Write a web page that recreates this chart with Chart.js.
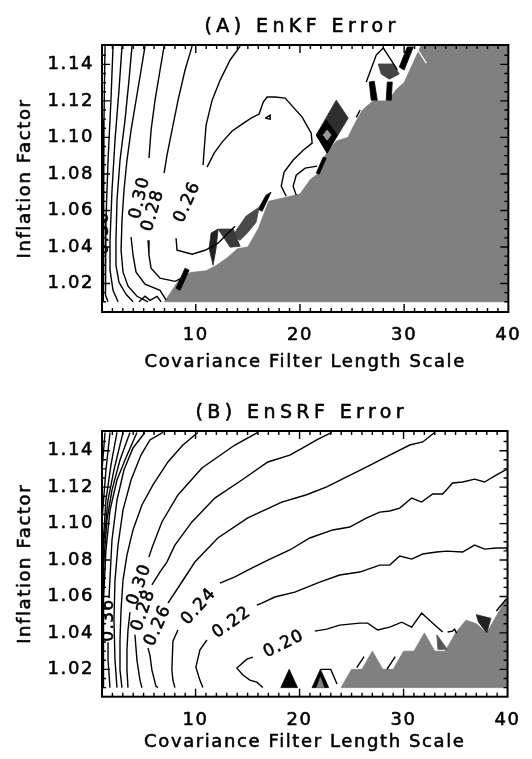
<!DOCTYPE html>
<html><head><meta charset="utf-8">
<script src="https://cdn.jsdelivr.net/npm/chart.js@4.4.1/dist/chart.umd.min.js"></script>
<style>
html,body{margin:0;padding:0;background:#fff;}
#wrap{position:relative;width:532px;height:759px;overflow:hidden;background:#fff;}
canvas{position:absolute;left:0;}
#cA{top:0;} #cB{top:380px;}
</style></head><body>
<div id="wrap"><canvas id="cA" width="532" height="380"></canvas><canvas id="cB" width="532" height="379"></canvas></div>
<script>
const FONT = '"DejaVu Sans", Verdana, sans-serif';
const FW = 'normal';
const xTickValues = [10, 20, 30, 40];
const yTickValues = [1.02, 1.04, 1.06, 1.08, 1.10, 1.12, 1.14];
const xTitle = 'Covariance Filter Length Scale';
const yTitle = 'Inflation Factor';

// ---------- Panel A : EnKF ----------
const aGray = [[7,1.01],[7.7,1.016],[8.5,1.023],[9.5,1.026],[11,1.027],[12,1.03],[13,1.034],[14,1.039],[15,1.04],[16,1.05],[17,1.065],[18.5,1.067],[20,1.069],[21,1.077],[21.7,1.08],[22.4,1.09],[23.5,1.098],[24.6,1.1],[25.3,1.108],[26,1.115],[27,1.12],[28.5,1.12],[29.2,1.126],[30,1.13],[30.8,1.14],[31.6,1.15],[40,1.15],[40,1.01]];
const aC040 = [[1.29,1.15],[1.19,1.1095],[1.1,1.0656],[1.1,1.0218],[1.19,1.01]];
const aC038 = [[2.06,1.15],[1.86,1.1204],[1.58,1.0876],[1.38,1.0547],[1.29,1.0273],[1.38,1.0136],[1.58,1.01]];
const aC036 = [[2.92,1.15],[2.63,1.1259],[2.25,1.0985],[1.96,1.0711],[1.77,1.0437],[1.77,1.0273],[2.06,1.0163],[2.54,1.01]];
const aC034 = [[3.88,1.15],[3.59,1.1314],[3.21,1.1095],[2.73,1.0876],[2.44,1.0656],[2.34,1.0437],[2.34,1.03],[2.63,1.0207],[3.31,1.0141],[3.98,1.01]];
const aC032 = [[5.13,1.15],[4.75,1.1369],[4.27,1.1204],[3.79,1.104],[3.4,1.0876],[3.11,1.0711],[2.92,1.0547],[2.83,1.0382],[3.02,1.0262],[3.5,1.0185],[4.36,1.013],[5.42,1.01]];
const aC030a = [[6.96,1.15],[6.57,1.1369],[6.09,1.1204],[5.71,1.104],[5.51,1.0887]];
const aC030b = [[3.79,1.0454],[3.98,1.0355],[4.27,1.0262],[5.13,1.0196],[6.57,1.0163],[7.15,1.011]];
const aC028a = [[9.65,1.15],[8.97,1.1369],[8.3,1.1204],[7.72,1.104],[7.24,1.0903],[6.96,1.0804]];
const aC028b = [[5.42,1.0437],[5.51,1.0355],[5.71,1.0284],[6.57,1.0229],[8.01,1.0212],[8.78,1.0234]];
const aC026a = [[14.26,1.15],[13.3,1.1424],[12.34,1.1314],[11.57,1.1204],[10.99,1.1067],[10.8,1.093],[10.7,1.0848]];
const aC026b = [[8.11,1.0448],[8.2,1.0382],[9.65,1.036],[10.89,1.0382],[12.14,1.0421],[13.1,1.0476],[13.78,1.0514]];
const aBump = [[11.09,1.0837],[11.76,1.0914],[12.53,1.0974],[13.49,1.1035],[14.45,1.1073],[15.31,1.1106],[16.08,1.1128],[16.47,1.1193],[16.85,1.1221],[17.62,1.1221],[18.58,1.1215],[19.35,1.1166],[20.21,1.1111],[21.08,1.1023],[21.17,1.0969],[20.31,1.093],[19.35,1.0876],[18.48,1.081],[18.2,1.0733],[18.68,1.0678]];
const aSide = [[21.65,1.0843],[20.5,1.0832],[19.64,1.0793],[19.35,1.0733],[19.64,1.0684]];
const aTiny = [[16.66,1.1106],[17.14,1.1122],[17.14,1.11],[16.66,1.1106]];
const aZig = [[4.55,1.01],[5.13,1.013],[5.61,1.0108],[6.28,1.013],[6.67,1.01]];
const aCaret = [[26.36,1.1303],[27.32,1.1451],[27.99,1.149],[28.86,1.1413],[29.34,1.137]];
const aShort = [[25.4,1.111],[25.78,1.115]];
const aWhite = [[31.07,1.15],[32.13,1.1407]];
const aDark1 = [[8.11,1.0174],[8.97,1.0284],[9.36,1.0273],[8.49,1.0163]];
const aDark2 = [[11.47,1.0476],[12.14,1.0498],[11.95,1.0393],[11.66,1.03],[11.28,1.0393]];
const aDark3 = [[12.14,1.0498],[13.59,1.0498],[14.26,1.0404],[13.3,1.0399]];
const aDark4 = [[13.49,1.0459],[14.83,1.0569],[16.08,1.0618],[15.79,1.0536],[15.02,1.0481],[14.26,1.0437]];
const aDark5 = [[15.99,1.0607],[16.75,1.0684],[17.23,1.07],[16.37,1.0596]];
const aDiamond = [[21.56,1.1013],[23.48,1.1204],[24.63,1.1106],[22.61,1.0914]];
const aDiamondLow = [[21.56,1.1013],[22.52,1.1095],[23.57,1.1013],[22.61,1.0914]];
const aDiamondCore = [[22.23,1.1013],[22.61,1.104],[22.99,1.1013],[22.61,1.0985]];
const aSliver = [[21.56,1.0804],[22.23,1.0892],[22.52,1.0887],[21.85,1.0799]];
const aBar1 = [[26.65,1.1303],[27.13,1.1308],[27.42,1.1204],[26.84,1.1204]];
const aBar2 = [[28.38,1.1303],[28.86,1.1303],[28.76,1.1204],[28.28,1.1204]];
const aHatch = [[27.51,1.1402],[28.95,1.1402],[29.53,1.1347],[28.57,1.1319],[27.8,1.1347]];
const aTop = [[29.53,1.1385],[30.3,1.1495],[30.88,1.1495],[30.0,1.1369]];
const aLabelText = ['0.36', '0.30', '0.28', '0.26'];
const aLabelX = [1.19, 4.65, 5.9, 9.2];
const aLabelY = [1.0476, 1.067, 1.06, 1.0646];
const aLabelAngle = [-90, -77, -74, -66];

// ---------- Panel B : EnSRF ----------
const bGray = [[24,1.01],[25,1.02],[26,1.02],[27,1.03],[28,1.02],[29,1.02],[30,1.03],[31,1.03],[32,1.04],[33,1.03],[34,1.03],[35,1.04],[36,1.047],[37,1.045],[38,1.04],[40,1.06],[40,1.01]];
const bC048 = [[1,1.1294],[1.29,1.15]];
const bC046 = [[1,1.102],[1.38,1.1294],[1.77,1.15]];
const bC044 = [[1,1.08],[1.38,1.1129],[1.86,1.1321],[2.44,1.15]];
const bC042 = [[1,1.058],[1.19,1.091],[1.58,1.1129],[2.15,1.1294],[3.02,1.15]];
const bC040 = [[1,1.0196],[1.05,1.047],[1.19,1.08],[1.48,1.102],[1.96,1.1184],[2.73,1.1349],[3.69,1.15]];
const bC038 = [[1.1,1.01],[1.1,1.0306],[1.19,1.058],[1.38,1.0855],[1.77,1.1074],[2.44,1.1239],[3.21,1.1349],[4.36,1.15]];
const bC036a = [[1.77,1.01],[1.58,1.0251],[1.58,1.0349]];
const bC036b = [[1.67,1.0591],[1.96,1.091],[2.44,1.1129],[3.11,1.1294],[3.98,1.1415],[5.13,1.15]];
const bC034 = [[2.44,1.01],[2.25,1.0251],[2.15,1.047],[2.25,1.069],[2.54,1.0882],[3.02,1.1074],[3.79,1.1239],[4.75,1.1376],[5.61,1.1459],[6.86,1.15]];
const bC032 = [[2.92,1.01],[2.73,1.0196],[2.73,1.0361],[2.83,1.0525],[3.02,1.069],[3.4,1.0827],[3.98,1.0965],[4.84,1.1102],[5.9,1.1212],[7.34,1.1338],[8.78,1.1431],[10.22,1.15]];
const bC030a = [[3.5,1.01],[3.4,1.0196],[3.4,1.0306],[3.5,1.0416],[3.69,1.0514]];
const bC030b = [[5.51,1.0816],[5.8,1.0866],[6.76,1.1009],[8.3,1.1157],[10.61,1.1305],[13.78,1.1431],[15.99,1.15]];
const bC028a = [[4.84,1.01],[4.65,1.0141],[4.36,1.0251],[4.17,1.039]];
const bC028b = [[5.8,1.0663],[6.57,1.0734],[7.24,1.0789],[8.01,1.0882],[9.65,1.1009],[11.85,1.114],[14.45,1.1239],[16.95,1.1338],[19.06,1.1376],[20.31,1.1415],[21.65,1.1459],[23.09,1.15]];
const bC026a = [[6.38,1.01],[6.19,1.0108],[5.8,1.0196],[5.61,1.0278],[5.42,1.0317]];
const bC026b = [[7.34,1.0564],[8.49,1.0663],[9.93,1.0789],[12.14,1.0921],[15.02,1.1031],[18.29,1.1118],[20.6,1.1157],[22.61,1.1201],[24.53,1.1256],[26.46,1.1311],[28.67,1.1376],[30.59,1.1431],[31.84,1.1448],[32.99,1.15]];
const bC024a = [[8.01,1.01],[7.82,1.0141],[7.72,1.0196],[7.82,1.0355],[8.3,1.0416]];
const bC024b = [[12.34,1.0673],[13.78,1.0707],[15.02,1.0745],[16.95,1.08],[19.06,1.0855],[20.98,1.0921],[23.19,1.0965],[24.82,1.0981],[26.46,1.1031],[27.71,1.1063],[28.67,1.1069],[29.63,1.1085],[30.78,1.114],[31.74,1.1118],[32.8,1.1162],[33.76,1.1162],[34.72,1.1223],[35.68,1.1228],[36.83,1.1244],[37.79,1.1228],[38.94,1.1267],[40,1.13]];
const bC022a = [[10.7,1.01],[10.41,1.0141],[10.03,1.0212],[10.41,1.0306],[11.09,1.0361]];
const bC022b = [[15.89,1.0553],[16.37,1.0564],[17.62,1.0597],[19.54,1.0624],[21.94,1.0679],[23.86,1.0718],[25.78,1.0734],[27.71,1.0772],[28.67,1.0772],[29.63,1.0822],[30.78,1.0805],[31.84,1.0833],[33.18,1.0844],[34.14,1.0849],[35.68,1.0844],[36.83,1.0882],[37.79,1.086],[38.94,1.0866],[39.9,1.0866],[40,1.085]];
const bC020a = [[16.47,1.01],[15.89,1.013],[15.22,1.0141],[14.55,1.0169],[13.97,1.0207],[14.93,1.0256],[15.51,1.0267]];
const bC020b = [[21.46,1.041],[22.61,1.0421],[23.86,1.0443],[25.78,1.0454],[26.55,1.0454],[27.51,1.0416],[28.67,1.0432],[29.82,1.0459],[30.78,1.0432],[31.74,1.0509],[32.7,1.0459],[33.76,1.0405]];
const bHook = [[34.24,1.0405],[34.72,1.041],[34.91,1.0421],[35.1,1.0399]];
const bTail = [[22,1.02],[23,1.02],[23.6,1.012]];
const bSlash1 = [[25.5,1.021],[26.2,1.027]];
const bSlash2 = [[28.4,1.02],[29.2,1.027]];
const bSlash3 = [[38.92,1.052],[39.88,1.0586]];
const bTri1 = [[18.2,1.01],[19,1.02],[19.8,1.01]];
const bTri2 = [[21.2,1.01],[22,1.02],[22.8,1.01]];
const bTri2Core = [[21.65,1.01],[22,1.0155],[22.35,1.01]];
const bHatch1 = [[33.2,1.039],[34.2,1.031],[33.3,1.031]];
const bWedge = [[37,1.05],[38.4,1.048],[38,1.04],[37.2,1.046]];
const bLabelText = ['0.36', '0.30', '0.28', '0.26', '0.24', '0.22', '0.20'];
const bLabelX = [1.65, 4.6, 4.99, 6.38, 10.32, 13.49, 18.49];
const bLabelY = [1.047, 1.0665, 1.0525, 1.044, 1.0545, 1.0457, 1.0339];
const bLabelAngle = [-90, -70, -71, -66, -48, -35, -26];

// ---------- helpers ----------
const GRAY = '#808080';
function pts(arr) { return arr.map(p => ({x: p[0], y: p[1]})); }
function lineDs(arr, color, width, order) {
  return {data: pts(arr), showLine: true, borderColor: color || '#000', borderWidth: width || 1.4,
          pointRadius: 0, pointHoverRadius: 0, fill: false, order: order || 0};
}
function polyDs(arr, color, order) {
  return {data: pts(arr.concat([arr[0]])), showLine: true, borderColor: color, borderWidth: 0.8,
          backgroundColor: color, pointRadius: 0, pointHoverRadius: 0, fill: 'shape', order: order || 2};
}

// Makes every text drawn on the chart slightly heavier (thin outline in the fill colour).
function heavyText(ctx) {
  if (ctx._heavy) return;
  const origFill = ctx.fillText;
  ctx.fillText = function (t, x, y, mw) {
    if (mw === undefined) origFill.call(this, t, x, y); else origFill.call(this, t, x, y, mw);
    this.save();
    this.strokeStyle = this.fillStyle;
    this.lineWidth = 0.55;
    this.lineJoin = 'round';
    if (mw === undefined) this.strokeText(t, x, y); else this.strokeText(t, x, y, mw);
    this.restore();
  };
  ctx._heavy = true;
}

const spacingPlugin = {
  id: 'spacing',
  beforeDraw(chart) {
    const ctx = chart.ctx;
    heavyText(ctx);
    if ('letterSpacing' in ctx) ctx.letterSpacing = '1.6px';
    const tb = chart.titleBlock;
    if (tb && !tb._wrapped) {
      const orig = tb.draw;
      tb.draw = function () {
        const c = this.ctx;
        const has = 'letterSpacing' in c;
        const prev = has ? c.letterSpacing : null;
        if (has) c.letterSpacing = '4.4px';
        c.save();
        c.translate(-3, 0);
        orig.apply(this, arguments);
        c.restore();
        if (has) c.letterSpacing = prev;
      };
      tb._wrapped = true;
    }
  },
  afterDraw(chart) { if ('letterSpacing' in chart.ctx) chart.ctx.letterSpacing = '0px'; }
};

const framePlugin = {
  id: 'frame',
  afterDatasetsDraw(chart) {
    const {ctx, chartArea: a, scales: {x, y}} = chart;
    ctx.save();
    ctx.strokeStyle = '#000';
    ctx.lineWidth = 1.4;
    ctx.beginPath();
    for (let v = 2; v < 40; v++) {
      const len = xTickValues.includes(v) ? 8 : 4;
      const px = x.getPixelForValue(v);
      ctx.moveTo(px, a.bottom); ctx.lineTo(px, a.bottom - len);
      ctx.moveTo(px, a.top); ctx.lineTo(px, a.top + len);
    }
    for (let k = 2; k <= 29; k++) {
      const v = 1 + k * 0.005;
      const len = (k % 4 === 0) ? 8 : 4;
      const py = y.getPixelForValue(v);
      ctx.moveTo(a.left, py); ctx.lineTo(a.left + len, py);
      ctx.moveTo(a.right, py); ctx.lineTo(a.right - len, py);
    }
    ctx.stroke();
    ctx.lineWidth = 2;
    ctx.strokeRect(a.left, a.top, a.right - a.left, a.bottom - a.top);
    ctx.restore();
  }
};

function labelPlugin(texts, xs, ys, angles) {
  return {
    id: 'clabels',
    afterDatasetsDraw(chart) {
      const {ctx, chartArea: a, scales: {x, y}} = chart;
      ctx.save();
      ctx.beginPath(); ctx.rect(a.left + 1, a.top, a.right - a.left - 1, a.bottom - a.top); ctx.clip();
      ctx.font = '17px ' + FONT;
      ctx.fillStyle = '#000';
      ctx.textAlign = 'center';
      ctx.textBaseline = 'middle';
      if ('letterSpacing' in ctx) ctx.letterSpacing = '1.3px';
      texts.forEach((t, i) => {
        ctx.save();
        ctx.translate(x.getPixelForValue(xs[i]), y.getPixelForValue(ys[i]));
        ctx.rotate(angles[i] * Math.PI / 180);
        ctx.fillText(t, 0, 0);
        ctx.restore();
      });
      ctx.restore();
    }
  };
}

function makeChart(id, cfg) {
  const tfont = {family: FONT, size: 18, weight: FW};
  return new Chart(document.getElementById(id), {
    type: 'scatter',
    data: {datasets: cfg.datasets},
    options: {
      responsive: false, animation: false, devicePixelRatio: 1, events: [],
      layout: {padding: {left: 0, right: 23, top: 0, bottom: 0}},
      plugins: {
        legend: {display: false}, tooltip: {enabled: false},
        title: {display: true, text: cfg.title, fullSize: false, color: '#000',
                font: {family: FONT, size: 19, weight: FW},
                padding: {top: cfg.tPadTop, bottom: cfg.tPadBottom}}
      },
      scales: {
        x: {type: 'linear', min: 1, max: 40,
            grid: {display: false, drawTicks: false}, border: {display: false},
            afterBuildTicks: s => { s.ticks = xTickValues.map(v => ({value: v})); },
            afterFit: s => { s.height = cfg.xH; },
            ticks: {color: '#000', font: tfont, padding: cfg.xTickPad,
                    maxRotation: 0, minRotation: 0, autoSkip: false, callback: v => String(v)},
            title: {display: true, text: xTitle, color: '#000', font: tfont,
                    padding: {top: 0, bottom: cfg.xTitlePad}}},
        y: {type: 'linear', min: cfg.yMin, max: cfg.yMax,
            grid: {display: false, drawTicks: false}, border: {display: false},
            afterBuildTicks: s => { s.ticks = yTickValues.map(v => ({value: v})); },
            afterFit: s => { s.width = 102; },
            ticks: {color: '#000', font: tfont, padding: 8, autoSkip: false,
                    callback: v => Number(v).toFixed(2)},
            title: {display: true, text: yTitle, color: '#000', font: tfont,
                    padding: {top: 14.2, bottom: 0}}}
      }
    },
    plugins: [spacingPlugin, framePlugin, labelPlugin(cfg.lt, cfg.lx, cfg.ly, cfg.la)]
  });
}

Chart.defaults.font.family = FONT;

const aDatasets = [
  polyDs(aGray, GRAY, 10),
  lineDs(aWhite, '#fff', 1.2, 5),
  polyDs(aDiamond, '#2e2e2e', 3), polyDs(aDiamondLow, '#000', 2), polyDs(aDiamondCore, '#999', 1),
  polyDs(aDark1, '#000'), polyDs(aDark2, '#222'), polyDs(aDark3, '#3a3a3a'), polyDs(aDark4, '#4a4a4a'),
  polyDs(aDark5, '#000'), polyDs(aSliver, '#000'), polyDs(aBar1, '#000'), polyDs(aBar2, '#000'),
  polyDs(aHatch, '#444'), polyDs(aTop, '#000'),
  lineDs(aC040), lineDs(aC038), lineDs(aC036), lineDs(aC034), lineDs(aC032),
  lineDs(aC030a), lineDs(aC030b), lineDs(aC028a), lineDs(aC028b), lineDs(aC026a), lineDs(aC026b),
  lineDs(aBump), lineDs(aSide), lineDs(aTiny), lineDs(aZig), lineDs(aCaret), lineDs(aShort)
];
const bDatasets = [
  polyDs(bGray, GRAY, 10),
  polyDs(bTri1, '#000'), polyDs(bTri2, '#000', 3), polyDs(bTri2Core, GRAY, 1),
  polyDs(bHatch1, '#555'), polyDs(bWedge, '#222'),
  lineDs(bC048), lineDs(bC046), lineDs(bC044), lineDs(bC042), lineDs(bC040), lineDs(bC038),
  lineDs(bC036a), lineDs(bC036b), lineDs(bC034), lineDs(bC032),
  lineDs(bC030a), lineDs(bC030b), lineDs(bC028a), lineDs(bC028b), lineDs(bC026a), lineDs(bC026b),
  lineDs(bC024a), lineDs(bC024b), lineDs(bC022a), lineDs(bC022b), lineDs(bC020a), lineDs(bC020b),
  lineDs(bHook), lineDs(bTail), lineDs(bSlash1), lineDs(bSlash2), lineDs(bSlash3)
];

makeChart('cA', {title: '(A) EnKF Error', datasets: aDatasets, yMin: 1.0044, yMax: 1.1506,
  tPadTop: 15.7, tPadBottom: 6.5, xH: 68, xTickPad: 12.2, xTitlePad: 7.2,
  lt: aLabelText, lx: aLabelX, ly: aLabelY, la: aLabelAngle});
makeChart('cB', {title: '(B) EnSRF Error', datasets: bDatasets, yMin: 1.005, yMax: 1.1508,
  tPadTop: 21.2, tPadBottom: 7, xH: 62.3, xTickPad: 13, xTitlePad: 6.2,
  lt: bLabelText, lx: bLabelX, ly: bLabelY, la: bLabelAngle});
</script></body></html>
